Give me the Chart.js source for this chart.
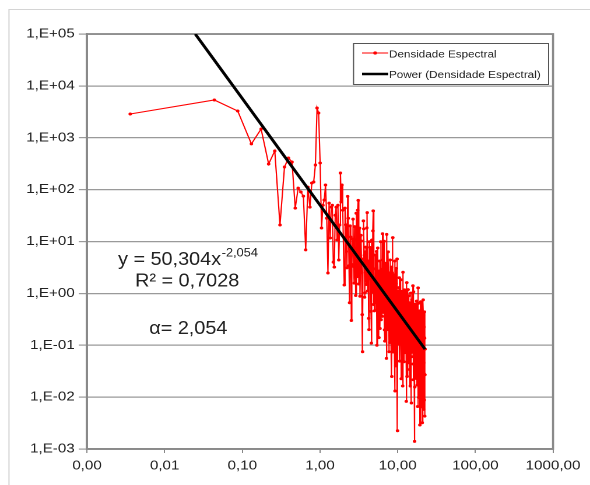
<!DOCTYPE html>
<html><head><meta charset="utf-8">
<script src="https://cdn.jsdelivr.net/npm/chart.js@4.4.0/dist/chart.umd.min.js"></script>
<style>
html,body{margin:0;padding:0;background:#fff;overflow:hidden;}
#wrap{position:absolute;left:0;top:0;width:506px;height:485px;transform:scaleX(1.166);transform-origin:0 0;}
</style></head><body>
<div id="wrap"><canvas id="c" width="506" height="485"></canvas></div>
<script>
// Spectral density, low frequencies (individually readable points)
const freqA = [0.0036, 0.0436, 0.0872, 0.1308, 0.1744, 0.218, 0.2616, 0.3052, 0.3488, 0.3924, 0.436, 0.4796, 0.5232, 0.5668, 0.6104, 0.654, 0.6976, 0.7412, 0.7848, 0.8284, 0.872, 0.9156, 0.9592, 1.0028, 1.0464, 1.09, 1.1336, 1.1772, 1.2208, 1.2644, 1.308, 1.3516, 1.3952, 1.4388, 1.4824, 1.526, 1.5696, 1.6132, 1.6568, 1.7004, 1.744, 1.7876, 1.8312, 1.8748, 1.9184, 1.962];
const densA = [2870, 5350, 3280, 760, 1475, 312, 556, 20.8, 273, 407, 341, 44, 107, 90, 75, 6.9, 112, 46, 134, 140, 299, 3740, 3000, 326, 18.2, 50, 63, 123, 28, 2.47, 55, 11.7, 46, 50, 4.0, 3.2, 32, 46, 10.7, 50, 4.4, 20.8, 209, 58, 123, 40];
// 2 - 5
const freqB = [2.05, 2.10, 2.14, 2.18, 2.22, 2.27, 2.31, 2.36, 2.40, 2.44, 2.49, 2.53, 2.57, 2.62, 2.66, 2.70, 2.75, 2.79, 2.83, 2.88, 2.92, 2.97, 3.01, 3.05, 3.10, 3.14, 3.18, 3.23, 3.27, 3.31, 3.36, 3.40, 3.44, 3.49, 3.53, 3.58, 3.62, 3.66, 3.71, 3.75, 3.79, 3.84, 3.88, 3.92, 3.97, 4.01, 4.05, 4.10, 4.14, 4.19, 4.23, 4.27, 4.32, 4.36, 4.40, 4.45, 4.49, 4.53, 4.58, 4.62, 4.66, 4.71, 4.75, 4.80, 4.84, 4.88, 4.93, 4.97, 5.01];
const densB = [1.45, 44, 21, 6.4, 3.1, 74, 28, 3.4, 0.66, 20, 12.2, 0.30, 3.6, 11.1, 27, 3.3, 1.58, 19.3, 7.5, 0.91, 35, 10.8, 2.1, 40, 62, 1.52, 9.3, 18.1, 0.88, 2.7, 13.2, 10.2, 2.5, 0.39, 0.075, 4.6, 25, 17.5, 5.4, 0.84, 1.03, 6.3, 7.8, 1.91, 1.48, 18.3, 36, 1.11, 3.4, 4.2, 0.33, 0.20, 9.9, 7.7, 1.9, 2.35, 5.8, 0.45, 0.11, 5.4, 10.7, 1.05, 1.29, 16, 39, 0.61, 1.9, 2.96, 0.46];
// 5 - 10
const freqC = [5.14, 5.21, 5.27, 5.34, 5.40, 5.47, 5.53, 5.60, 5.66, 5.73, 5.79, 5.86, 5.92, 5.99, 6.05, 6.12, 6.18, 6.25, 6.31, 6.38, 6.44, 6.51, 6.57, 6.64, 6.70, 6.77, 6.83, 6.90, 6.96, 7.03, 7.09, 7.16, 7.22, 7.29, 7.35, 7.42, 7.48, 7.55, 7.61, 7.68, 7.74, 7.81, 7.87, 7.94, 8.00, 8.07, 8.13, 8.20, 8.26, 8.33, 8.39, 8.46, 8.52, 8.59, 8.65, 8.72, 8.78, 8.85, 8.91, 8.98, 9.04, 9.11, 9.17, 9.24, 9.30, 9.37, 9.43, 9.50, 9.56, 9.63, 9.69, 9.76, 9.82, 9.89, 9.95];
const densC = [5.5, 1.07, 0.66, 6.4, 0.1, 0.49, 7.5, 2.3, 1.13, 0.14, 2.7, 4.2, 0.21, 1.28, 9.9, 0.31, 1.9, 2.9, 0.36, 14.1, 4.4, 0.43, 0.66, 2.06, 10.1, 0.198, 0.12, 3.8, 2.3, 0.92, 0.45, 0.056, 13.7, 2.14, 1.05, 0.52, 0.2, 6.3, 2.5, 0.30, 0.075, 1.17, 1.45, 0.113, 4.4, 2.18, 0.27, 0.67, 1.04, 3.2, 0.025, 0.198, 2.5, 1.21, 11.9, 0.074, 0.37, 2.28, 1.41, 0.28, 0.11, 0.86, 4.2, 0.0131, 0.52, 1.61, 0.04, 0.39, 1.55, 3.03, 0.24, 0.117, 4.6, 0.91, 0.00225];
// 10 - 22.5
const freqD = [10.1, 10.2, 10.3, 10.4, 10.5, 10.6, 10.7, 10.8, 10.9, 11.0,
  11.1, 11.2, 11.3, 11.4, 11.5, 11.6, 11.7, 11.8, 11.9, 12.0,
  12.1, 12.2, 12.3, 12.4, 12.5, 12.6, 12.7, 12.8, 12.9, 13.0,
  13.1, 13.2, 13.3, 13.4, 13.5, 13.6, 13.7, 13.8, 13.9, 14.0,
  14.1, 14.2, 14.3, 14.4, 14.5, 14.6, 14.7, 14.8, 14.9, 15.0,
  15.1, 15.2, 15.3, 15.4, 15.5, 15.6, 15.7, 15.8, 15.9, 16.0,
  16.1, 16.2, 16.3, 16.4, 16.5, 16.6, 16.7, 16.8, 16.9, 17.0,
  17.1, 17.2, 17.3, 17.4, 17.5, 17.6, 17.7, 17.8, 17.9, 18.0,
  18.1, 18.2, 18.3, 18.4, 18.5, 18.6, 18.7, 18.8, 18.9, 19.0,
  19.1, 19.2, 19.3, 19.4, 19.5, 19.6, 19.7, 19.8, 19.9, 20.0,
  20.1, 20.2, 20.3, 20.4, 20.5, 20.6, 20.7, 20.8, 20.9, 21.0,
  21.1, 21.2, 21.3, 21.4, 21.5, 21.6, 21.7, 21.8, 21.9, 22.0,
  22.1, 22.2, 22.3, 22.4, 22.5];
const densD = [1.09, 0.214, 0.105, 1.29, 2.0, 0.0495, 0.24, 0.60, 0.74, 1.83,
  0.0226, 0.111, 1.09, 0.34, 0.133, 0.0164, 2.56, 0.79, 0.31, 0.193,
  0.048, 1.17, 1.16, 0.072, 0.141, 0.55, 0.43, 0.106, 0.0083, 0.82,
  1.61, 0.025, 0.196, 0.385, 0.60, 1.18, 0.046, 0.072, 0.90, 0.28,
  0.11, 0.034, 0.34, 0.66, 0.0164, 0.129, 1.01, 0.40, 0.196, 0.0077,
  0.060, 0.75, 0.59, 0.073, 0.114, 0.224, 1.40, 0.0435, 0.0216, 1.07,
  0.33, 0.104, 0.065, 0.40, 0.0014, 0.0157, 0.62, 0.243, 0.12, 0.047,
  0.37, 0.58, 0.0229, 0.113, 0.71, 0.277, 0.069, 0.0171, 0.21, 0.42,
  0.0066, 0.065, 1.28, 0.64, 0.079, 0.0099, 0.39, 0.153, 0.030, 0.047,
  0.23, 0.46, 0.0029, 0.0227, 0.45, 0.177, 0.11, 0.69, 0.0216, 0.0338,
  0.67, 0.105, 0.052, 0.0065, 0.255, 0.32, 0.0032, 0.062, 0.31, 0.193,
  0.038, 0.015, 0.75, 0.37, 0.0058, 0.046, 0.144, 0.225, 0.028, 0.0088,
  0.44, 0.137, 0.0043, 0.027, 0.084];
// Power trend line y = 50,304 x^-2,054 (end points)
const fitX = [0.02479, 22.5];
const fitY = [100000, 0.084];
const xTickValues = [0.001, 0.01, 0.1, 1, 10, 100, 1000];
const xTickLabels = ['0,00', '0,01', '0,10', '1,00', '10,00', '100,00', '1000,00'];
const yTickValues = [1e-3, 1e-2, 1e-1, 1, 10, 100, 1000, 1e4, 1e5];
const yTickLabels = ['1,E-03', '1,E-02', '1,E-01', '1,E+00', '1,E+01', '1,E+02', '1,E+03', '1,E+04', '1,E+05'];
const seriesNames = ['Densidade Espectral', 'Power (Densidade Espectral)'];
const eqMain = 'y = 50,304x';
const eqExp = '-2,054';
const r2Text = 'R\u00B2 = 0,7028';
const alphaText = '\u03B1= 2,054';

const frequency = freqA.concat(freqB, freqC, freqD);
const density = densA.concat(densB, densC, densD);

const FONT = '"Liberation Sans", Arial, sans-serif';

const framePlugin = {
  id: 'frame',
  beforeDraw(chart) {
    const c = chart.ctx;
    c.save();
    c.fillStyle = '#fff';
    c.fillRect(0, 0, chart.width, chart.height);
    c.strokeStyle = '#d4d4d4';
    c.lineWidth = 1;
    c.beginPath();
    c.moveTo(7.7, 600); c.lineTo(7.7, 9.5); c.lineTo(700, 9.5);
    c.stroke();
    c.restore();
  },
  beforeDatasetsDraw(chart) {
    const a = chart.chartArea, c = chart.ctx;
    c.save();
    c.strokeStyle = '#8a8a8a';
    c.lineWidth = 1.8;
    c.strokeRect(a.left, a.top, a.right - a.left, a.bottom - a.top);
    c.restore();
  }
};

function stretchedText(c, txt, x, y, sy) {
  c.save();
  c.translate(x, y);
  c.scale(1, sy);
  c.fillText(txt, 0, 0);
  c.restore();
}

const textPlugin = {
  id: 'texts',
  afterDraw(chart) {
    const c = chart.ctx;
    c.save();
    // legend
    const lx0 = 302.7, ly0 = 43, lx1 = 470, ly1 = 84;
    c.fillStyle = '#fff';
    c.fillRect(lx0, ly0, lx1 - lx0, ly1 - ly0);
    c.strokeStyle = '#555';
    c.lineWidth = 1;
    c.strokeRect(lx0 + 0.5, ly0 + 0.5, lx1 - lx0, ly1 - ly0);
    c.strokeStyle = '#ff0000';
    c.lineWidth = 1.1;
    c.beginPath(); c.moveTo(310.5, 53); c.lineTo(333, 53); c.stroke();
    c.fillStyle = '#ff0000';
    c.beginPath(); c.arc(321.7, 53, 1.6, 0, Math.PI * 2); c.fill();
    c.strokeStyle = '#000';
    c.lineWidth = 2.6;
    c.beginPath(); c.moveTo(310.5, 74); c.lineTo(333, 74); c.stroke();
    c.fillStyle = '#222';
    c.font = '10px ' + FONT;
    c.textAlign = 'left';
    c.textBaseline = 'alphabetic';
    c.fillText(seriesNames[0], 333.6, 57.3);
    c.fillText(seriesNames[1], 333.6, 78);
    // annotation
    const sy = 1.1;
    c.font = '17px ' + FONT;
    const w1 = c.measureText(eqMain).width;
    c.font = '11px ' + FONT;
    const w2 = c.measureText(eqExp).width;
    const start = 161 - (w1 + w2) / 2;
    c.font = '17px ' + FONT;
    stretchedText(c, eqMain, start, 265, sy);
    c.font = '11px ' + FONT;
    stretchedText(c, eqExp, start + w1 + 0.5, 256.5, sy);
    c.font = '17px ' + FONT;
    c.textAlign = 'center';
    stretchedText(c, r2Text, 160.5, 286.7, sy);
    stretchedText(c, alphaText, 161.5, 334, sy);
    c.restore();
  }
};

new Chart(document.getElementById('c'), {
  type: 'scatter',
  data: {
    datasets: [
      {
        label: seriesNames[1],
        data: fitX.map((x, i) => ({ x: x, y: fitY[i] })),
        showLine: true, borderColor: '#000', borderWidth: 2.6,
        pointRadius: 0, order: 0
      },
      {
        label: seriesNames[0],
        data: frequency.map((x, i) => ({ x: x, y: density[i] })),
        showLine: true, borderColor: '#ff0000', borderWidth: 1.1,
        pointRadius: 1.5, pointBackgroundColor: '#ff0000', pointBorderWidth: 0,
        order: 1
      }
    ]
  },
  options: {
    responsive: false,
    animation: false,
    devicePixelRatio: 2,
    layout: { padding: { top: 34, right: 31.7, bottom: 0, left: 0 } },
    plugins: { legend: { display: false }, tooltip: { enabled: false } },
    scales: {
      x: {
        type: 'logarithmic', min: 0.001, max: 1000,
        afterBuildTicks: s => { s.ticks = xTickValues.map(v => ({ value: v })); },
        afterFit: s => { s.height = 36; },
        ticks: { callback: (v, i) => xTickLabels[i], font: { family: FONT, size: 13 }, color: '#222', padding: 5, maxRotation: 0, autoSkip: false },
        grid: { drawOnChartArea: false, drawTicks: true, tickLength: 4, color: '#888', lineWidth: 1 },
        border: { display: true, color: '#8a8a8a', width: 1.8 }
      },
      y: {
        type: 'logarithmic', min: 1e-3, max: 1e5,
        afterBuildTicks: s => { s.ticks = yTickValues.map(v => ({ value: v })); },
        afterFit: s => { s.width = 74.6; },
        ticks: { callback: (v, i) => yTickLabels[i], font: { family: FONT, size: 13 }, color: '#222', padding: 3.5, autoSkip: false },
        grid: { color: '#9a9a9a', lineWidth: 1.2, tickLength: 7 },
        border: { display: true, color: '#8a8a8a', width: 1.8 }
      }
    }
  },
  plugins: [framePlugin, textPlugin]
});
</script>
</body></html>
